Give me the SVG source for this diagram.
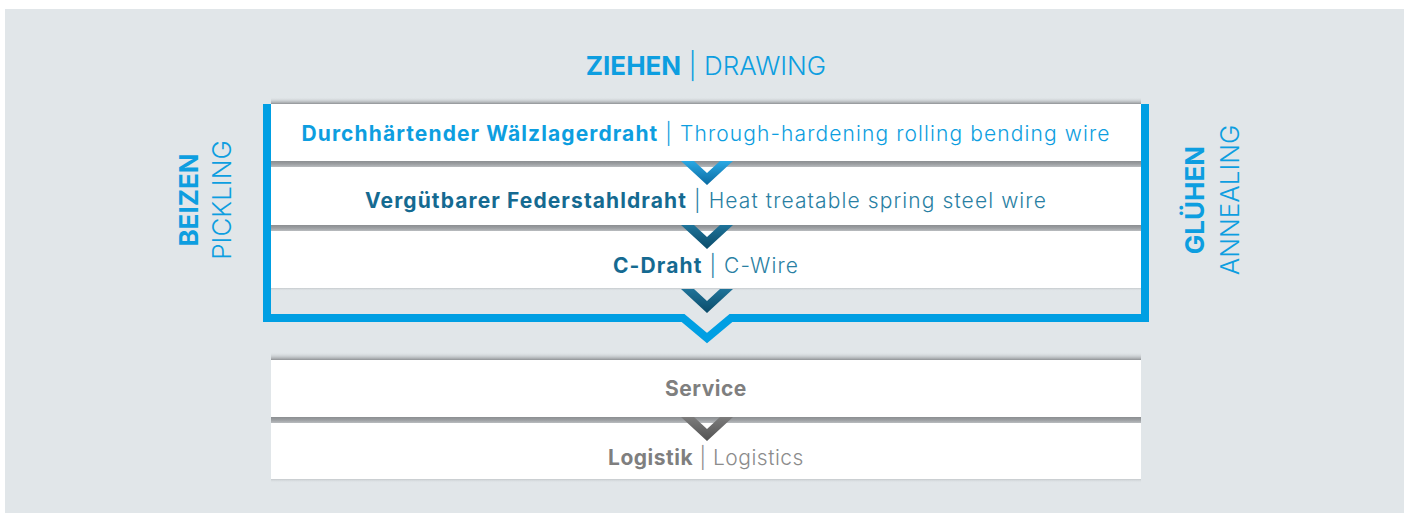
<svg xmlns="http://www.w3.org/2000/svg" width="1404" height="513" viewBox="0 0 1404 513">
  <style>
    text { font-family: Inter, "Noto Sans", "DejaVu Sans", sans-serif; }
    .b { font-weight: 700; }
    .l { font-weight: 300; }
    .blue { fill: #0d9ee0; }
    .teal-b { fill: #156a91; }
    .teal-l { fill: #2a7fa3; }
    .gray-b { fill: #7f7f7f; }
    .gray-l { fill: #8c8c8c; }
    .box { fill: #ffffff; }
    .row { font-size: 21px; text-anchor: middle; letter-spacing: 1.1px; }
    .row-g { font-size: 21px; text-anchor: middle; letter-spacing: 0.5px; }
    .side { font-size: 26px; text-anchor: middle; }
  </style>
  <defs>
    <linearGradient id="band" x1="0" y1="0" x2="0" y2="1">
      <stop offset="0" stop-color="#8b8e91"/>
      <stop offset="0.5" stop-color="#9c9fa2"/>
      <stop offset="1" stop-color="#b9bcbf"/>
    </linearGradient>
    <linearGradient id="shadowUp" x1="0" y1="0" x2="0" y2="1">
      <stop offset="0" stop-color="#e1e6e9" stop-opacity="0"/>
      <stop offset="1" stop-color="#8f9295"/>
    </linearGradient>
    <linearGradient id="shadowDown" x1="0" y1="0" x2="0" y2="1">
      <stop offset="0" stop-color="#c4c8cb"/>
      <stop offset="1" stop-color="#e1e6e9" stop-opacity="0"/>
    </linearGradient>
    <linearGradient id="chevBlue" x1="0" y1="0" x2="0" y2="1">
      <stop offset="0" stop-color="#2aa8e3"/>
      <stop offset="1" stop-color="#0a6ba2"/>
    </linearGradient>
    <linearGradient id="chevTeal" x1="0" y1="0" x2="0" y2="1">
      <stop offset="0" stop-color="#1f7399"/>
      <stop offset="1" stop-color="#0b4b69"/>
    </linearGradient>
    <linearGradient id="chevGray" x1="0" y1="0" x2="0" y2="1">
      <stop offset="0" stop-color="#7c7c7c"/>
      <stop offset="1" stop-color="#525252"/>
    </linearGradient>
    <polygon id="chev" points="681,0 694,0 707,12 720,0 733,0 707,24"/>
  </defs>

  <!-- backdrop -->
  <rect id="background" x="5" y="9" width="1399" height="504" fill="#e1e6e9"/>

  <!-- title -->
  <text id="title" x="706" y="75" font-size="26" text-anchor="middle"><tspan class="b blue">ZIEHEN</tspan><tspan class="l blue"> | DRAWING</tspan></text>

  <!-- side labels -->
  <g id="label-pickling">
    <text class="side b blue" transform="translate(198,200) rotate(-90)">BEIZEN</text>
    <text class="side l blue" transform="translate(231,200) rotate(-90)">PICKLING</text>
  </g>
  <g id="label-annealing">
    <text class="side b blue" transform="translate(1204,200) rotate(-90)">GLÜHEN</text>
    <text class="side l blue" transform="translate(1239,200) rotate(-90)">ANNEALING</text>
  </g>

  <!-- upper stack: wire products -->
  <rect x="271" y="97" width="870" height="7" fill="url(#shadowUp)"/>
  <g id="node-rolling-wire">
    <rect class="box" x="271" y="104" width="870" height="57"/>
    <text class="row" x="706" y="141"><tspan class="b blue">Durchhärtender Wälzlagerdraht</tspan><tspan class="l blue"> | Through-hardening rolling bending wire</tspan></text>
  </g>
  <rect x="271" y="161" width="870" height="6" fill="url(#band)"/>
  <g id="node-spring-wire">
    <rect class="box" x="271" y="167" width="870" height="58"/>
    <text class="row" x="706" y="208"><tspan class="b teal-b">Vergütbarer Federstahldraht</tspan><tspan class="l teal-l"> | Heat treatable spring steel wire</tspan></text>
  </g>
  <rect x="271" y="225" width="870" height="6" fill="url(#band)"/>
  <g id="node-c-wire">
    <rect class="box" x="271" y="231" width="870" height="57"/>
    <text class="row" x="706" y="273"><tspan class="b teal-b">C-Draht</tspan><tspan class="l teal-l"> | C-Wire</tspan></text>
  </g>
  <rect x="271" y="288" width="870" height="3" fill="url(#shadowDown)"/>

  <!-- process frame -->
  <path id="frame" d="M267,104 V318 H683 L707,338 L731,318 H1145 V104" fill="none" stroke="#009fe3" stroke-width="8" stroke-linejoin="miter"/>

  <!-- lower stack: services -->
  <rect x="271" y="352" width="870" height="8" fill="url(#shadowUp)"/>
  <g id="node-service">
    <rect class="box" x="271" y="360" width="870" height="57"/>
    <text class="row-g gray-b b" x="706" y="396">Service</text>
  </g>
  <rect x="271" y="417" width="870" height="6" fill="url(#band)"/>
  <g id="node-logistics">
    <rect class="box" x="271" y="423" width="870" height="56"/>
    <text class="row-g" x="706" y="465"><tspan class="b gray-b">Logistik</tspan><tspan class="l gray-l"> | Logistics</tspan></text>
  </g>
  <rect x="271" y="479" width="870" height="4" fill="url(#shadowDown)"/>

  <!-- connectors -->
  <g id="connectors">
    <use href="#chev" y="161" fill="url(#chevBlue)"/>
    <use href="#chev" y="225" fill="url(#chevTeal)"/>
    <use href="#chev" y="289" fill="url(#chevTeal)"/>
    <use href="#chev" y="417" fill="url(#chevGray)"/>
  </g>
</svg>
